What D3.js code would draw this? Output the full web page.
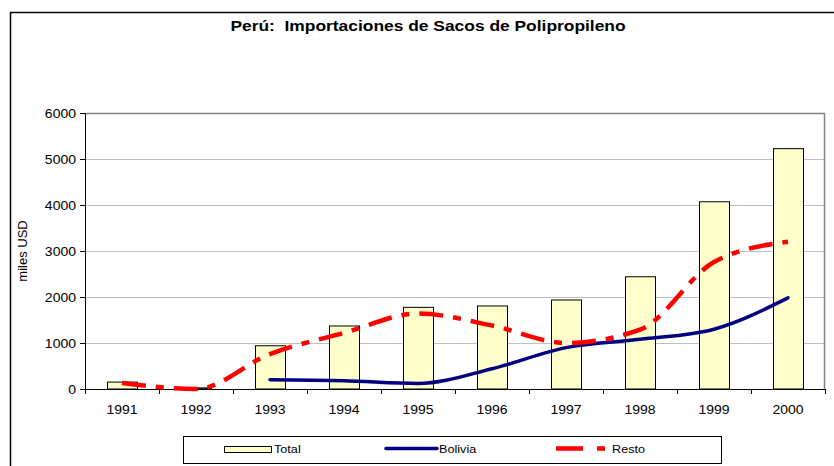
<!DOCTYPE html>
<html>
<head>
<meta charset="utf-8">
<script src="https://cdn.jsdelivr.net/npm/d3@7"></script>
<style>
  body { margin: 0; background: #fff; }
  text { font-family: "Liberation Sans", Arial, sans-serif; fill: #000; white-space: pre; }
</style>
</head>
<body>
<div id="chart"></div>
<script>
// Perú: importaciones de sacos de polipropileno (miles USD)
const years = ["1991", "1992", "1993", "1994", "1995", "1996", "1997", "1998", "1999", "2000"]
const total = [150, 25, 940, 1370, 1775, 1805, 1935, 2440, 4070, 5225]
const bolivia = [null, null, 200, 180, 120, 440, 900, 1080, 1300, 1980]
const resto = [130, 0, 760, 1220, 1640, 1380, 1000, 1290, 2760, 3200]
const yTicks = [0, 1000, 2000, 3000, 4000, 5000, 6000]

const W = 834, H = 466
const margin = { top: 113, left: 85 }
const width = 740, height = 276
const sx = 1.12 // the source picture is a bit wider than it is tall

const svg = d3.select("#chart").append("svg")
    .attr("width", W)
    .attr("height", H)

// outer frame of the chart
svg.append("rect")
    .attr("x", 10.5).attr("y", 12.5)
    .attr("width", 840).attr("height", 470)
    .attr("fill", "none").attr("stroke", "#000").attr("stroke-width", 1.5)

svg.append("text")
    .attr("transform", `translate(428,31) scale(1.16,1)`)
    .attr("text-anchor", "middle")
    .attr("font-size", "15px")
    .attr("font-weight", "bold")
    .text("Perú:  Importaciones de Sacos de Polipropileno")

const g = svg.append("g").attr("transform", `translate(${margin.left},${margin.top})`)

const x = d3.scaleBand().domain(years).range([0, width])
const y = d3.scaleLinear().domain([0, 6000]).range([height, 0])

// gridlines
g.selectAll(".grid")
    .data(yTicks.slice(1, -1))
    .join("line")
    .attr("class", "grid")
    .attr("x1", 0).attr("x2", width)
    .attr("y1", d => Math.round(y(d)) + 0.5).attr("y2", d => Math.round(y(d)) + 0.5)
    .attr("stroke", "#c0c0c0")

// plot area border (top + right in gray)
g.append("path")
    .attr("d", `M0,0.5H${width - 0.5}V${height}`)
    .attr("fill", "none").attr("stroke", "#808080").attr("stroke-width", 1.5)

// bars
const barW = 30
g.selectAll(".bar")
    .data(years.map((yr, i) => ({ yr, v: total[i] })))
    .join("rect")
    .attr("class", "bar")
    .attr("x", d => Math.round(x(d.yr) + x.bandwidth() / 2 - barW / 2) + 0.5)
    .attr("y", d => y(d.v))
    .attr("width", barW)
    .attr("height", d => height - y(d.v))
    .attr("fill", "#ffffcc")
    .attr("stroke", "#000")
    .attr("stroke-width", 1)

// axes
const yAxis = g.append("g")
    .call(d3.axisLeft(y).tickValues(yTicks).tickFormat(d3.format("d")).tickSize(5).tickSizeOuter(0).tickPadding(4))
yAxis.select(".domain").attr("stroke", "#000")
yAxis.selectAll("text")
    .attr("font-size", "12.5px")
    .attr("x", -9 / sx)
    .attr("transform", `scale(${sx},1)`)

const xAxis = g.append("g")
    .attr("transform", `translate(0,${height})`)
    .call(d3.axisBottom(x).tickSize(0).tickPadding(16))
xAxis.select(".domain").attr("stroke", "#000")
xAxis.selectAll("text")
    .attr("font-size", "12.5px")
    .attr("transform", `scale(${sx},1)`)
// ticks between categories
xAxis.selectAll(".sep")
    .data(years.concat(["end"]))
    .join("line")
    .attr("class", "sep")
    .attr("x1", (d, i) => i * x.step() + 0.5)
    .attr("x2", (d, i) => i * x.step() + 0.5)
    .attr("y1", 0).attr("y2", 5)
    .attr("stroke", "#000")

svg.append("text")
    .attr("transform", `translate(27,${margin.top + height / 2}) rotate(-90)`)
    .attr("text-anchor", "middle")
    .attr("font-size", "13px")
    .text("miles USD")

// lines
const cx = yr => x(yr) + x.bandwidth() / 2

const smoothLine = d3.line()
    .x(d => cx(d.yr))
    .y(d => y(d.v))
    .curve(d3.curveMonotoneX)

g.append("path")
    .datum(years.map((yr, i) => ({ yr, v: bolivia[i] })).filter(d => d.v !== null))
    .attr("d", smoothLine)
    .attr("fill", "none")
    .attr("stroke", "#000080")
    .attr("stroke-width", 3.5)
    .attr("stroke-linecap", "round")

g.append("path")
    .datum(years.map((yr, i) => ({ yr, v: resto[i] })))
    .attr("d", smoothLine)
    .attr("fill", "none")
    .attr("stroke", "#ff0000")
    .attr("stroke-width", 4.5)
    .attr("stroke-dasharray", "24,10,8,10")

// legend
const legend = svg.append("g")
legend.append("rect")
    .attr("x", 183.5).attr("y", 436.5)
    .attr("width", 538).attr("height", 27)
    .attr("fill", "#fff").attr("stroke", "#000")

legend.append("rect")
    .attr("x", 224.5).attr("y", 446.5)
    .attr("width", 47).attr("height", 6)
    .attr("fill", "#ffffcc").attr("stroke", "#000")
legend.append("line")
    .attr("x1", 386).attr("x2", 437).attr("y1", 448.5).attr("y2", 448.5)
    .attr("stroke", "#000080").attr("stroke-width", 3.5).attr("stroke-linecap", "round")
legend.append("line")
    .attr("x1", 556).attr("x2", 605).attr("y1", 448.5).attr("y2", 448.5)
    .attr("stroke", "#ff0000").attr("stroke-width", 4.5)
    .attr("stroke-dasharray", "27,14,8,20")

const legendItems = [["Total", 274], ["Bolivia", 439], ["Resto", 612]]
legend.selectAll(".lt")
    .data(legendItems)
    .join("text")
    .attr("class", "lt")
    .attr("transform", d => `translate(${d[1]},453) scale(1.1,1)`)
    .attr("font-size", "11.5px")
    .text(d => d[0])
</script>
</body>
</html>
